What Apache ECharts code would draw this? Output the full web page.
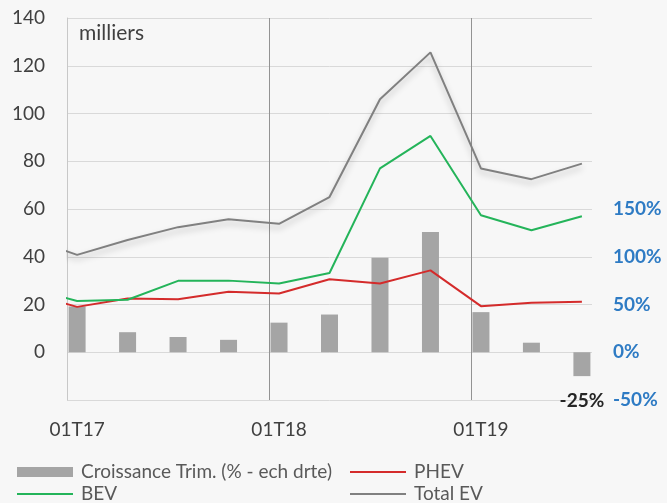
<!DOCTYPE html>
<html>
<head>
<meta charset="utf-8">
<script src="https://cdn.jsdelivr.net/npm/echarts@6/dist/echarts.min.js"></script>
<style>
html,body{margin:0;padding:0;background:#f7f7f7;}
#chart{width:667px;height:503px;}
</style>
</head>
<body>
<div id="chart"></div>
<script>
// quarters; the first one (04T16) is only visible as a clipped stub at the left edge
var categories = ['04T16','01T17','02T17','03T17','04T17','01T18','02T18','03T18','04T18','01T19','02T19','03T19'];
var tickLabels = ['01T17','01T18','01T19'];
var growthPct = [null, 48, 21, 16, 13, 31, 39.5, 99, 126, 42, 10, -25];
var phev     = [25, 19, 22.5, 22.2, 25.3, 24.6, 30.6, 28.8, 34.3, 19.3, 20.7, 21.2];
var bev      = [27, 21.5, 22, 29.9, 30, 28.8, 33.2, 77, 90.6, 57.4, 51.1, 57];
var totalEv  = [48, 40.8, 47, 52.4, 55.7, 53.8, 65, 106, 125.6, 77, 72.5, 79];
var leftTicks = {min: -20, max: 140, step: 20};
var rightTicks = {min: -50, max: 350, step: 50, lastShown: 150};

function pairs(arr){ return arr.map(function(v,i){ return [i-1, v]; }); }
var labelValues = tickLabels.map(function(t){ return categories.indexOf(t) - 1; });

var font = 'Lato, "Open Sans", sans-serif';
var legendText = {fontFamily: font, fontSize: 19, color: '#595959', lineHeight: 20, padding: [0, 0, 0, 3]};
var chart = echarts.init(document.getElementById('chart'), null, {renderer:'canvas'});
var option = {
  backgroundColor: '#f7f7f7',
  animation: false,
  grid: {left: 67, right: 75, top: 18, bottom: 103, containLabel: false},
  xAxis: [
    {
      type: 'value', min: -0.2, max: 10.2, interval: 4, position: 'bottom',
      axisLine: {show: false}, axisTick: {show: false},
      splitLine: {show: true, showMinLine: false, showMaxLine: false,
        lineStyle: {color: '#939393', width: 1}},
      axisLabel: {
        customValues: labelValues,
        margin: 20, fontFamily: font, fontSize: 19, color: '#404040',
        formatter: function(v){ var k = labelValues.indexOf(Math.round(v)); return k >= 0 ? tickLabels[k] : ''; }
      }
    }
  ],
  yAxis: [
    {
      type: 'value', min: leftTicks.min, max: leftTicks.max, interval: leftTicks.step, position: 'left',
      axisLine: {show: true, onZero: false, lineStyle: {color: '#c8c8c8', width: 1}},
      axisTick: {show: false},
      splitLine: {show: true, lineStyle: {color: '#d9d9d9', width: 1}},
      axisLabel: {
        margin: 22, fontFamily: font, fontSize: 19, color: '#404040',
        formatter: function(v){ return v < 0 ? '' : String(v); }
      }
    },
    {
      type: 'value', min: rightTicks.min, max: rightTicks.max, interval: rightTicks.step, position: 'right',
      axisLine: {show: false, onZero: false}, axisTick: {show: false}, splitLine: {show: false},
      axisLabel: {
        margin: 21, fontFamily: font, fontSize: 19, fontWeight: 'bold', color: '#2e7bc4',
        formatter: function(v){ return v > rightTicks.lastShown ? '' : v + '%'; }
      }
    }
  ],
  legend: [
    {left: 17, top: 462, padding: 0, itemWidth: 56, itemHeight: 10, icon: 'rect',
     data: ['Croissance Trim. (% - ech drte)'], textStyle: legendText},
    {left: 350, top: 462, padding: 0, itemWidth: 56, itemHeight: 2, icon: 'rect',
     data: ['PHEV'], textStyle: legendText},
    {left: 17, top: 484, padding: 0, itemWidth: 56, itemHeight: 2, icon: 'rect',
     data: ['BEV'], textStyle: legendText},
    {left: 350, top: 484, padding: 0, itemWidth: 56, itemHeight: 2, icon: 'rect',
     data: ['Total EV'], textStyle: legendText}
  ],
  graphic: [
    {type: 'text', x: 79, y: 33, style: {text: 'milliers', font: '21px ' + font, fill: '#404040', verticalAlign: 'middle'}}
  ],
  series: [
    {
      name: 'Croissance Trim. (% - ech drte)', type: 'bar', xAxisIndex: 0, yAxisIndex: 1,
      barWidth: 17, z: 2,
      itemStyle: {color: '#a5a5a5'},
      data: pairs(growthPct).map(function(p, i){
        if (i === growthPct.length - 1) {
          return {value: p, label: {show: true, position: 'bottom', distance: 15,
            fontFamily: font, fontSize: 19, fontWeight: 'bold', color: '#262626',
            formatter: function(d){ return d.value[1] + '%'; }}};
        }
        return p;
      })
    },
    {
      name: 'PHEV', type: 'line', xAxisIndex: 0, yAxisIndex: 0, showSymbol: false, symbol: 'none', z: 4,
      lineStyle: {color: '#d42b2b', width: 2}, itemStyle: {color: '#d42b2b'},
      data: pairs(phev)
    },
    {
      name: 'BEV', type: 'line', xAxisIndex: 0, yAxisIndex: 0, showSymbol: false, symbol: 'none', z: 4,
      lineStyle: {color: '#24b45a', width: 2}, itemStyle: {color: '#24b45a'},
      data: pairs(bev)
    },
    {
      name: 'Total EV', type: 'line', xAxisIndex: 0, yAxisIndex: 0, showSymbol: false, symbol: 'none', z: 4,
      lineStyle: {color: '#808080', width: 2, shadowColor: 'rgba(0,0,0,0.25)', shadowBlur: 6, shadowOffsetY: 4},
      itemStyle: {color: '#808080'},
      data: pairs(totalEv)
    }
  ]
};
chart.setOption(option);
</script>
</body>
</html>
